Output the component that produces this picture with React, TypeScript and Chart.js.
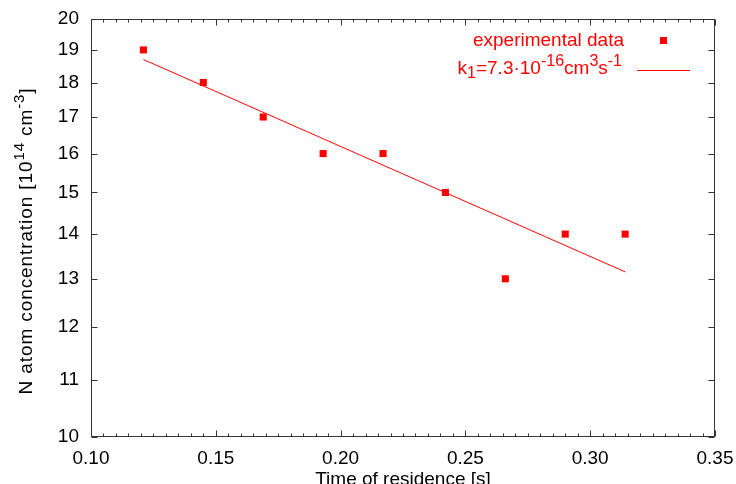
import React, { useEffect, useRef } from 'react';
import { Chart, registerables } from 'chart.js';

Chart.register(...registerables);

// ---- data ----
const residenceTime = [0.121, 0.145, 0.169, 0.193, 0.217, 0.242, 0.266, 0.29, 0.314];
const concentration = [19, 18, 17, 16, 16, 15, 13, 14, 14];
const fitTime = [0.121, 0.314];
const fitConcentration = [18.7, 13.15];
const xTickValues = [0.1, 0.15, 0.2, 0.25, 0.3, 0.35];
const xMinorStep = 0.005;
const yTickValues = [10, 11, 12, 13, 14, 15, 16, 17, 18, 19, 20];
const legendPoints = 'experimental data';

const FONT = '"Liberation Sans", Arial, Helvetica, sans-serif';
const FS = 19;
const RED = '#ff0000';
const AXIS = '#333333';

type Seg = { t: string; s?: 'sup' | 'sub' };

const yTitle: Seg[] = [
  { t: 'N atom concentration [10' },
  { t: '14', s: 'sup' },
  { t: ' cm' },
  { t: '-3', s: 'sup' },
  { t: ']' },
];
const fitLabel: Seg[] = [
  { t: 'k' },
  { t: '1', s: 'sub' },
  { t: '=7.3·10' },
  { t: '-16', s: 'sup' },
  { t: 'cm' },
  { t: '3', s: 'sup' },
  { t: 's' },
  { t: '-1', s: 'sup' },
];

let SMALL = 15;
function segFont(s?: string) {
  return `${s ? SMALL : FS}px ${FONT}`;
}
function richWidth(ctx: CanvasRenderingContext2D, segs: Seg[]) {
  let w = 0;
  for (const sg of segs) {
    ctx.font = segFont(sg.s);
    w += ctx.measureText(sg.t).width;
  }
  return w;
}
function drawRich(ctx: CanvasRenderingContext2D, segs: Seg[], x: number, y: number, align: 'left' | 'right') {
  let cx = align === 'right' ? x - richWidth(ctx, segs) : x;
  ctx.textAlign = 'left';
  ctx.textBaseline = 'alphabetic';
  for (const sg of segs) {
    ctx.font = segFont(sg.s);
    const dy = sg.s === 'sup' ? -FS * 0.42 : sg.s === 'sub' ? FS * 0.22 : 0;
    ctx.fillText(sg.t, cx, y + dy);
    cx += ctx.measureText(sg.t).width;
  }
}

const decorPlugin = {
  id: 'decor',
  afterDatasetsDraw(chart: any) {
    const { ctx, chartArea: a, scales } = chart;
    const xs = scales.x;
    const ys = scales.y;
    ctx.save();
    ctx.strokeStyle = AXIS;
    ctx.lineWidth = 1;
    const L = Math.round(a.left) + 0.5;
    const R = Math.round(a.right) - 0.5;
    const T = Math.round(a.top) + 0.5;
    const B = Math.round(a.bottom) - 0.5;
    ctx.strokeRect(L, T, R - L, B - T);
    ctx.beginPath();
    const xMin = xTickValues[0];
    const xMax = xTickValues[xTickValues.length - 1];
    const n = Math.round((xMax - xMin) / xMinorStep);
    for (let i = 0; i <= n; i++) {
      const v = xMin + i * xMinorStep;
      const px = Math.round(xs.getPixelForValue(v)) + 0.5;
      const len = i % 10 === 0 ? 6 : 3;
      ctx.moveTo(px, B);
      ctx.lineTo(px, B - len);
      ctx.moveTo(px, T);
      ctx.lineTo(px, T + len);
    }
    for (const v of yTickValues) {
      const py = Math.round(ys.getPixelForValue(v)) + 0.5;
      ctx.moveTo(L, py);
      ctx.lineTo(L + 6, py);
      ctx.moveTo(R, py);
      ctx.lineTo(R - 6, py);
    }
    ctx.stroke();

    // axis titles
    ctx.fillStyle = '#000';
    ctx.font = segFont();
    ctx.textAlign = 'center';
    ctx.textBaseline = 'alphabetic';
    ctx.fillText('Time of residence [s]', (a.left + a.right) / 2, 485);

    ctx.save();
    ctx.translate(32, 241);
    ctx.rotate(-Math.PI / 2);
    (ctx as any).letterSpacing = '0.9px';
    SMALL = 15;
    const w = richWidth(ctx, yTitle);
    drawRich(ctx, yTitle, -w / 2, 0, 'left');
    (ctx as any).letterSpacing = '0px';
    ctx.restore();

    // legend
    ctx.fillStyle = RED;
    ctx.font = segFont();
    ctx.textAlign = 'right';
    ctx.fillText(legendPoints, 624, 46);
    ctx.fillRect(660, 37, 7, 7);
    SMALL = 16;
    drawRich(ctx, fitLabel, 622, 74, 'right');
    SMALL = 15;
    ctx.strokeStyle = RED;
    ctx.beginPath();
    ctx.moveTo(637, 70.5);
    ctx.lineTo(690, 70.5);
    ctx.stroke();
    ctx.restore();
  },
};

export default function App() {
  const ref = useRef<HTMLCanvasElement>(null);
  useEffect(() => {
    const chart = new Chart(ref.current as HTMLCanvasElement, {
      type: 'scatter',
      data: {
        datasets: [
          {
            label: legendPoints,
            data: residenceTime.map((x, i) => ({ x, y: concentration[i] })),
            pointStyle: 'rect',
            pointRadius: 5,
            pointBackgroundColor: RED,
            pointBorderColor: RED,
            pointBorderWidth: 0,
            showLine: false,
          },
          {
            label: 'fit',
            data: fitTime.map((x, i) => ({ x, y: fitConcentration[i] })),
            showLine: true,
            borderColor: RED,
            borderWidth: 1,
            pointRadius: 0,
            fill: false,
          },
        ],
      },
      options: {
        responsive: false,
        animation: false,
        devicePixelRatio: 1,
        layout: { padding: { left: 0, top: 19, right: 21, bottom: 0 } },
        plugins: { legend: { display: false }, tooltip: { enabled: false } },
        scales: {
          x: {
            type: 'linear',
            min: 0.1,
            max: 0.35,
            grid: { display: false, drawTicks: false },
            border: { display: false },
            afterBuildTicks: (s: any) => {
              s.ticks = xTickValues.map((v) => ({ value: v }));
            },
            afterFit: (s: any) => {
              s.height = 47;
              s.paddingLeft = 0;
              s.paddingRight = 0;
            },
            ticks: {
              autoSkip: false,
              maxRotation: 0,
              padding: 10,
              color: '#000',
              font: { family: FONT, size: FS },
              callback: (v: any) => Number(v).toFixed(2),
            },
          },
          y: {
            type: 'logarithmic',
            min: 10,
            max: 20,
            grid: { display: false, drawTicks: false },
            border: { display: false },
            afterBuildTicks: (s: any) => {
              s.ticks = yTickValues.map((v) => ({ value: v }));
            },
            afterFit: (s: any) => {
              s.width = 91;
              s.paddingTop = 0;
              s.paddingBottom = 0;
            },
            ticks: {
              autoSkip: false,
              padding: 12,
              color: '#000',
              font: { family: FONT, size: FS },
              callback: (v: any) => String(v),
            },
          },
        },
      },
      plugins: [decorPlugin],
    } as any);
    return () => chart.destroy();
  }, []);
  return (
    <div style={{ position: 'absolute', left: 0, top: 0, width: 736, height: 484, background: '#fff' }}>
      <canvas ref={ref} width={736} height={484} style={{ display: 'block' }} />
    </div>
  );
}
